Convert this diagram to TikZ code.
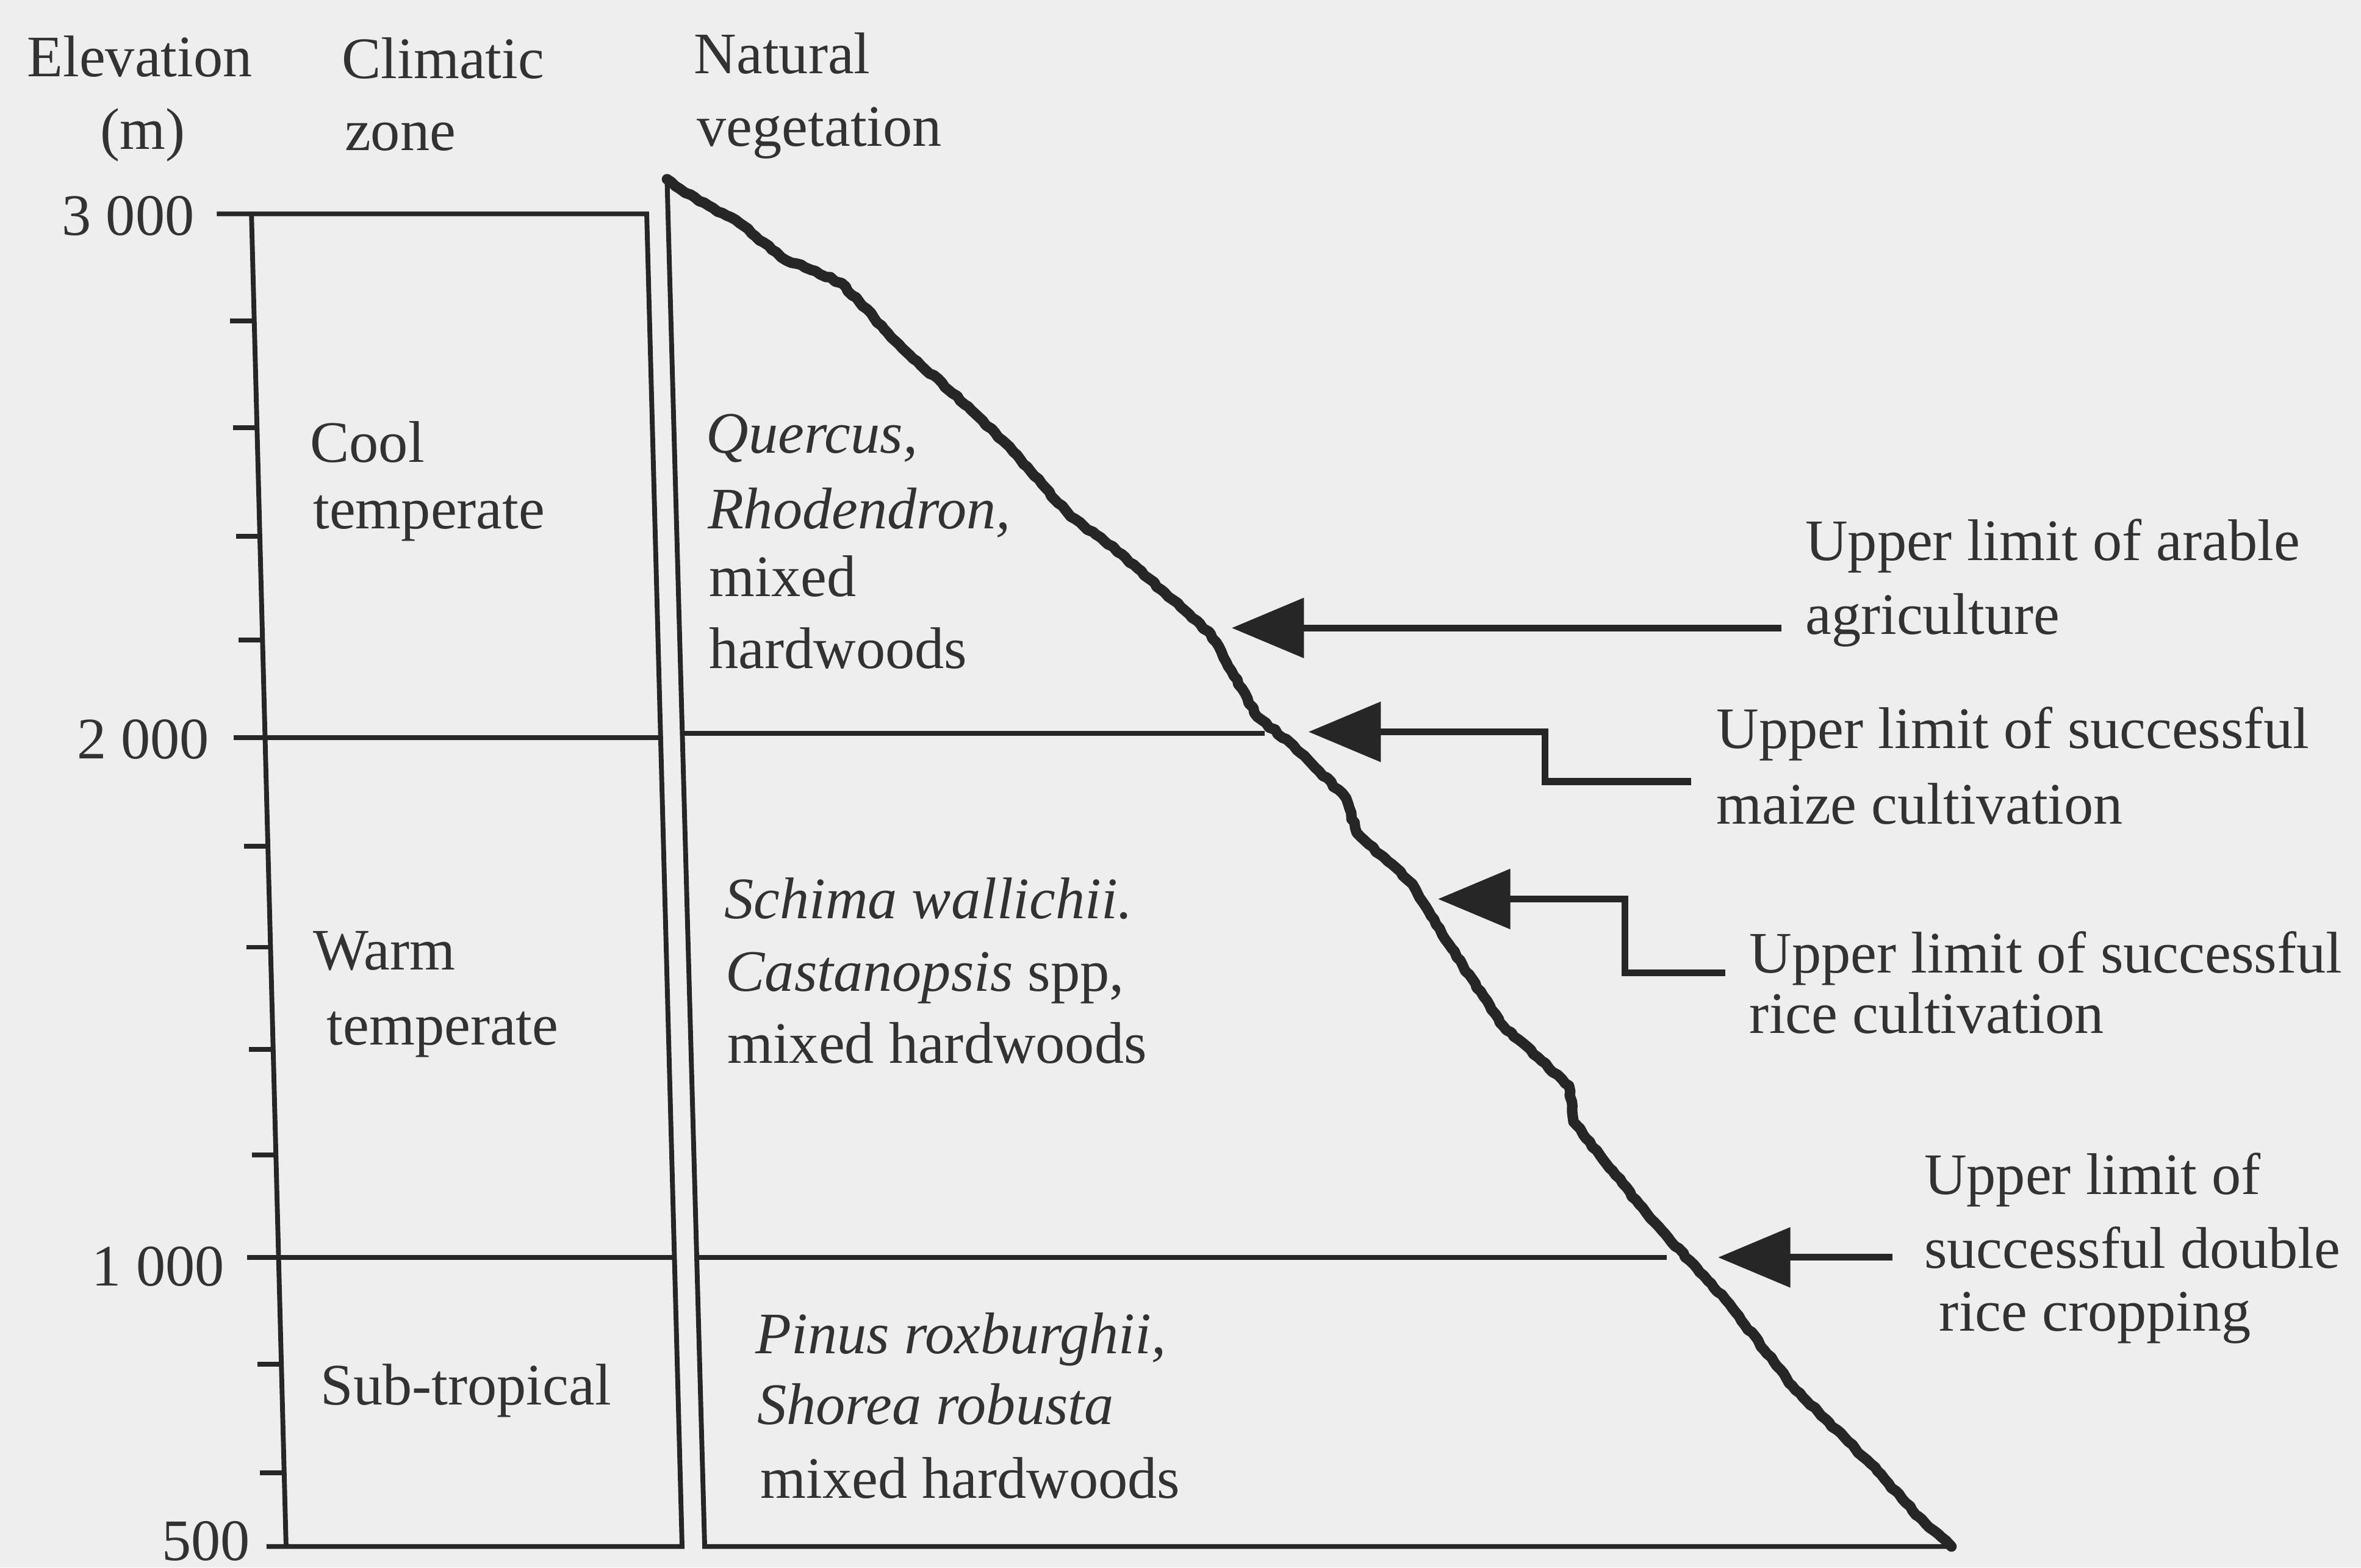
\documentclass[tikz,border=0pt]{standalone}
\usepackage{fontspec}
\setmainfont{Liberation Serif}
\usetikzlibrary{arrows.meta,decorations.pathmorphing}
\definecolor{bg}{RGB}{238,238,238}
\definecolor{ink}{RGB}{38,38,38}
\definecolor{txt}{RGB}{50,50,50}
\begin{document}
\pgfmathsetseed{7}
\begin{tikzpicture}[x=0.01cm,y=-0.01cm,
  lbl/.style={anchor=base west,inner sep=0pt,outer sep=0pt,text=txt,font=\fontsize{11.1}{13.6}\selectfont},
  lblr/.style={lbl,anchor=base east},
  lblc/.style={lbl,anchor=base},
  frame/.style={draw=ink,line width=0.032cm},
  tick/.style={draw=ink,line width=0.032cm},
  pointer/.style={draw=ink,line width=0.045cm,line join=miter,-{Triangle[length=0.48cm,width=0.39cm]}},
  slope/.style={draw=ink,line width=0.07cm,line join=round,line cap=round,
    decorate,decoration={random steps,segment length=0.035cm,amplitude=0.007cm}}
]
\fill[bg] (0,0) rectangle (1568,1041);
\useasboundingbox (0,0) rectangle (1568,1041);

% column headers
\node[lbl]  (hElev) at (18,51)  {Elevation};
\node[lblc] (hM)    at (95,99)  {(m)};
\node[lbl]  (hClim) at (227,52) {Climatic};
\node[lbl]  (hZone) at (229,100) {zone};
\node[lbl]  (hNat)  at (461,49) {Natural};
\node[lbl]  (hVeg)  at (463,97) {vegetation};

% elevation labels
\node[lblr] (e3000) at (129,156)  {3 000};
\node[lblr] (e2000) at (139,504)  {2 000};
\node[lblr] (e1000) at (149,854)  {1 000};
\node[lblr] (e500)  at (166,1036) {500};

% frame of the climatic column
\draw[frame] (144,142) -- (429.5,142) -- (453,1027) -- (177,1027);
\draw[frame] (167,142) -- (190,1027);
\draw[frame] (155,490) -- (438.7,490);
\draw[frame] (164,835) -- (447.9,835);
% minor ticks
\foreach \y/\x in {213/168.8,284/170.7,356/172.6,425/174.4,562/177.9,629/179.7,697/181.4,767/183.2,906/186.9,978/188.7}
  \draw[tick] (\x-16,\y) -- (\x,\y);

% vegetation column
\draw[frame] (443,119) -- (468,1027) -- (1296,1027);
\draw[frame] (453,487) -- (840,487);
\draw[frame] (463,835) -- (1107,835);

% slope profile
\draw[slope] (443,119) -- (455,128) -- (491,148) -- (519,171) -- (559,188) -- (599,231)
  -- (643,270) -- (673,300) -- (711,343) -- (745,368) -- (804,421) -- (835,476)
  -- (859,495) -- (894,530) -- (901,553) -- (938,587) -- (958,621) -- (998,681)
  -- (1042,721) -- (1045,745) -- (1096,809) -- (1146,863) -- (1190,920)
  -- (1247,977) -- (1274,1007) -- (1296,1027);

% climatic zones
\node[lbl] (zCool1) at (206,307) {Cool};
\node[lbl] (zCool2) at (208,351) {temperate};
\node[lbl] (zWarm1) at (208,644) {Warm};
\node[lbl] (zWarm2) at (217,694) {temperate};
\node[lbl] (zSub)   at (213,933) {Sub-tropical};

% natural vegetation
\node[lbl] (vA1) at (469,301) {\textit{Quercus,}};
\node[lbl] (vA2) at (470,351) {\textit{Rhodendron,}};
\node[lbl] (vA3) at (471,396) {mixed};
\node[lbl] (vA4) at (471,444) {hardwoods};
\node[lbl] (vB1) at (481,610) {\textit{Schima wallichii.}};
\node[lbl] (vB2) at (482,658) {\textit{Castanopsis} spp,};
\node[lbl] (vB3) at (483,706) {mixed hardwoods};
\node[lbl] (vC1) at (502,899) {\textit{Pinus roxburghii,}};
\node[lbl] (vC2) at (503,946) {\textit{Shorea robusta}};
\node[lbl] (vC3) at (505,995) {mixed hardwoods};

% limit labels
\node[lbl] (lAr1) at (1199,372) {Upper limit of arable};
\node[lbl] (lAr2) at (1199,421) {agriculture};
\node[lbl] (lMz1) at (1140,497) {Upper limit of successful};
\node[lbl] (lMz2) at (1140,547) {maize cultivation};
\node[lbl] (lRc1) at (1162,646) {Upper limit of successful};
\node[lbl] (lRc2) at (1162,686) {rice cultivation};
\node[lbl] (lDb1) at (1278,793) {Upper limit of};
\node[lbl] (lDb2) at (1278,842) {successful double};
\node[lbl] (lDb3) at (1288,884) {rice cropping};

% pointers
\coordinate (arEnd) at (1183,417);
\coordinate (arTip) at (818,417);
\draw[pointer] (arEnd) -- (arTip);

\coordinate (mzEnd) at (1123,519);
\coordinate (mzBendA) at (1026,519);
\coordinate (mzBendB) at (1026,486);
\coordinate (mzTip) at (869,486);
\draw[pointer] (mzEnd) -- (mzBendA) -- (mzBendB) -- (mzTip);

\coordinate (rcEnd) at (1146,646);
\coordinate (rcBendA) at (1079,646);
\coordinate (rcBendB) at (1079,597);
\coordinate (rcTip) at (955,597);
\draw[pointer] (rcEnd) -- (rcBendA) -- (rcBendB) -- (rcTip);

\coordinate (dbEnd) at (1257,835);
\coordinate (dbTip) at (1141,835);
\draw[pointer] (dbEnd) -- (dbTip);
\end{tikzpicture}
\end{document}
